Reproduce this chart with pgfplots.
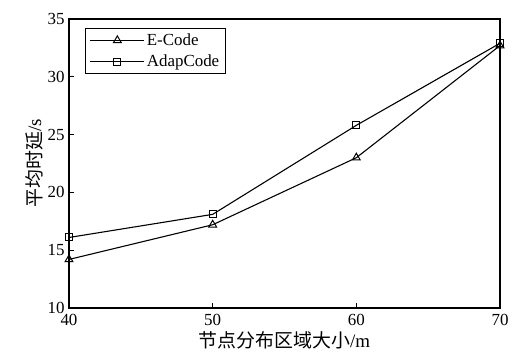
\documentclass[border=0pt]{standalone}
\usepackage{pgfplots}
\pgfplotsset{compat=1.18}
\usepackage{fontspec}
\setmainfont{Liberation Serif}
\newfontfamily\cjk{Noto Sans CJK SC}
\begin{document}
\begin{tikzpicture}
\begin{axis}[
  scale only axis,
  width=431bp, height=289bp,
  xmin=40, xmax=70, ymin=10, ymax=35,
  xtick={40,50,60,70}, ytick={10,15,20,25,30,35},
  tick pos=left, tick align=inside,
  major tick length=5bp,
  axis line style={line width=1.1pt},
  every tick/.style={line width=1pt, black},
  /pgf/number format/assume math mode=true,
  tick label style={font=\fontsize{17}{18}\selectfont},
  xticklabel style={yshift=-3bp},
  yticklabel style={xshift=-1bp},
  xlabel={{\cjk 节点分布区域大小}/m},
  ylabel={{\cjk 平均时延}/s},
  label style={font=\fontsize{19}{20}\selectfont},
  xlabel style={yshift=1bp},
  ylabel style={yshift=-2bp},
  legend style={at={(0.038,0.968)}, anchor=north west, draw=black, line width=1pt,
    font=\fontsize{17}{19}\selectfont, row sep=4bp, inner xsep=4bp, inner ysep=3bp},
  legend cell align=left,
  legend image code/.code={\draw[mark repeat=2,mark phase=2] plot coordinates {(0cm,0cm) (0.95cm,0cm) (1.9cm,0cm)};},
  every axis plot/.append style={line width=1.1pt, black},
]
\addplot[mark=triangle, mark size=4.5bp, mark options={solid, line width=1pt}] coordinates {(40,14.2) (50,17.2) (60,23.0) (70,32.7)};
\addlegendentry{E-Code}
\addplot[mark=square, mark size=3.5bp, mark options={solid, line width=1pt}] coordinates {(40,16.1) (50,18.1) (60,25.8) (70,32.9)};
\addlegendentry{AdapCode}
\end{axis}
\path[use as bounding box] ([xshift=-69bp,yshift=-44.3bp]current axis.south west) rectangle ([xshift=16bp,yshift=19bp]current axis.north east);
\end{tikzpicture}
\end{document}
